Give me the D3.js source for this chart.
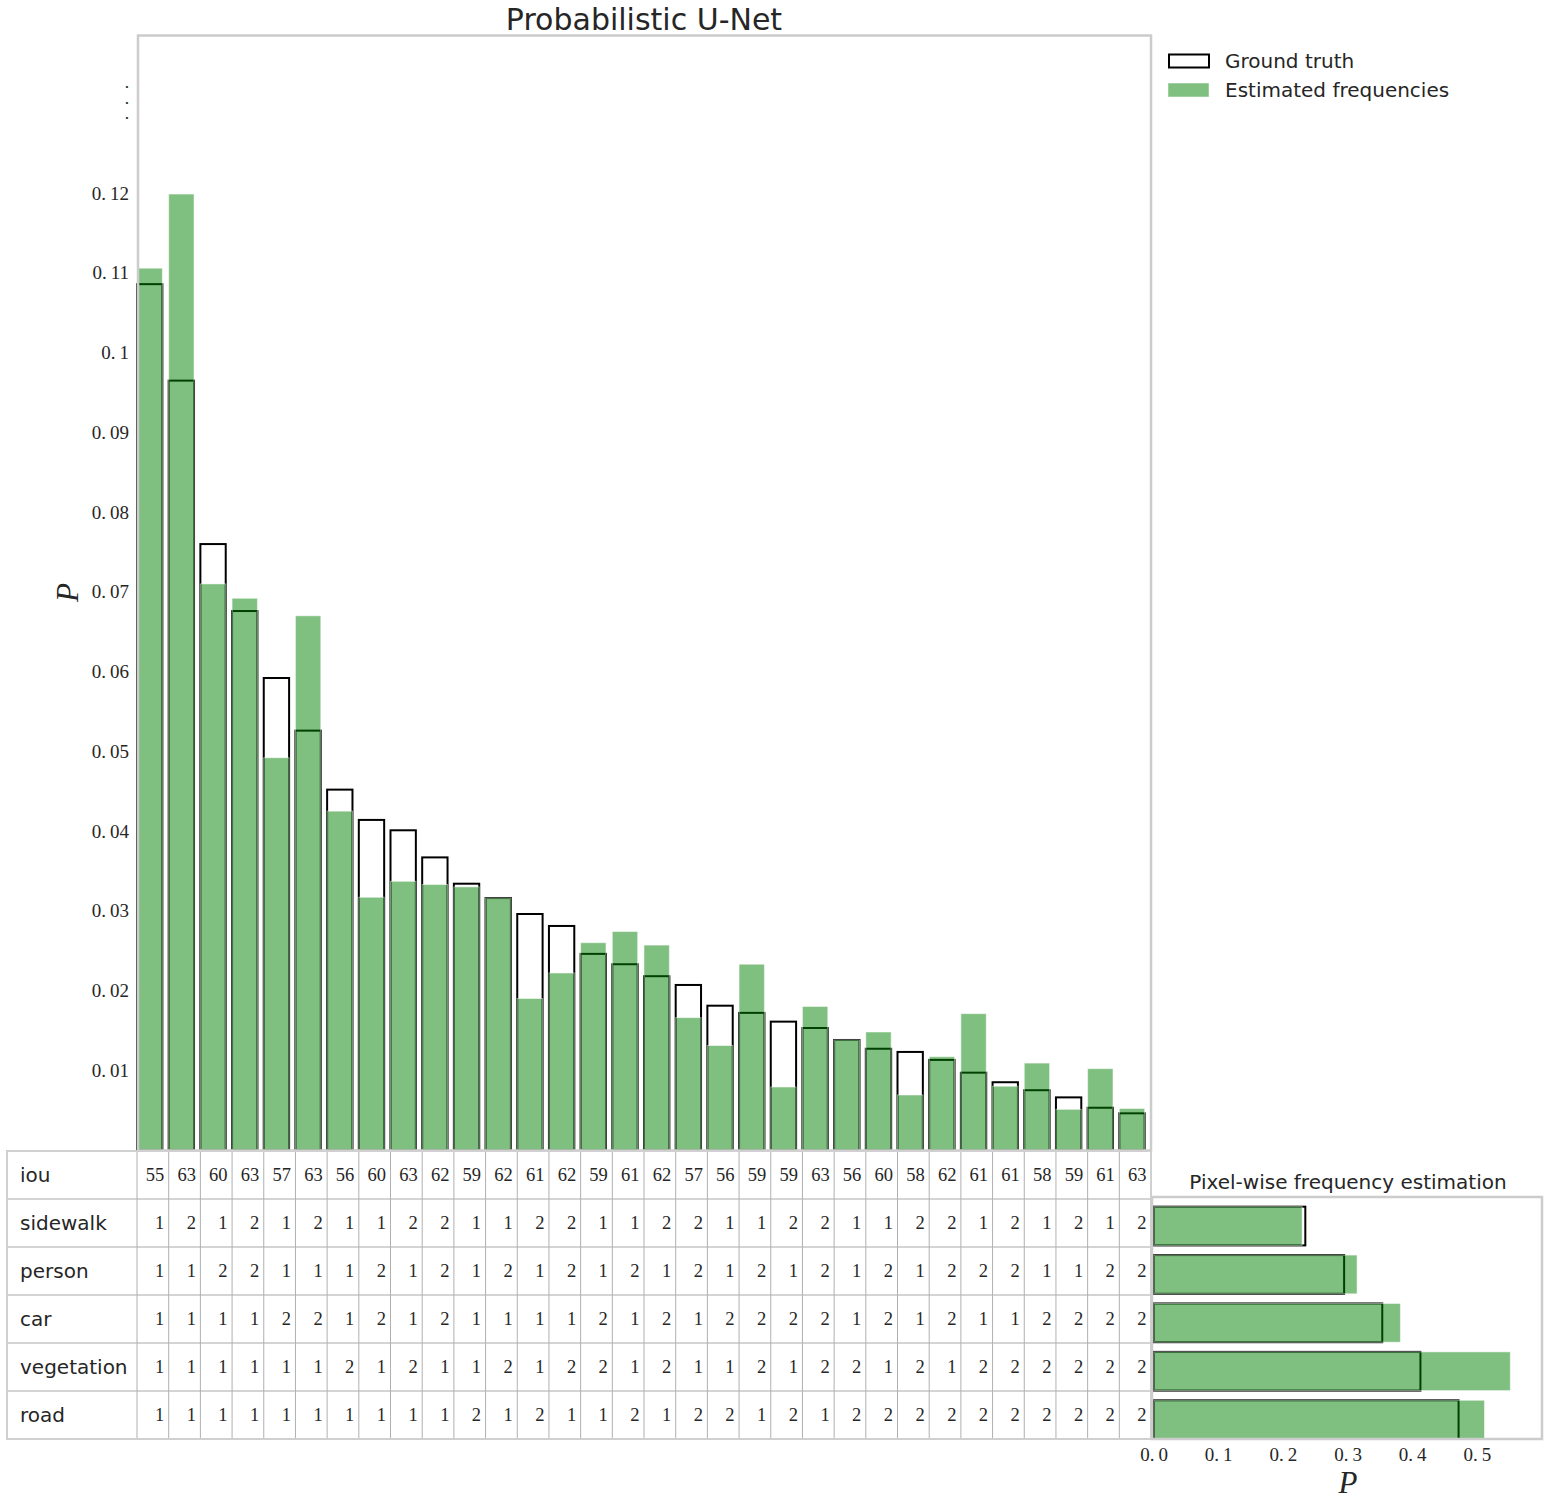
<!DOCTYPE html>
<html>
<head>
<meta charset="utf-8">
<script src="https://cdn.jsdelivr.net/npm/d3@7"></script>
<style>
  body { margin: 0; background: #fff; }
  text { fill: #262626; }
</style>
</head>
<body>
<div id="chart"></div>
<script>
// data
const iou        = [55,63,60,63,57,63,56,60,63,62,59,62,61,62,59,61,62,57,56,59,59,63,56,60,58,62,61,61,58,59,61,63];
const sidewalk   = [1,2,1,2,1,2,1,1,2,2,1,1,2,2,1,1,2,2,1,1,2,2,1,1,2,2,1,2,1,2,1,2];
const person     = [1,1,2,2,1,1,1,2,1,2,1,2,1,2,1,2,1,2,1,2,1,2,1,2,1,2,2,2,1,1,2,2];
const car        = [1,1,1,1,2,2,1,2,1,2,1,1,1,1,2,1,2,1,2,2,2,2,1,2,1,2,1,1,2,2,2,2];
const vegetation = [1,1,1,1,1,1,2,1,2,1,1,2,1,2,2,1,2,1,1,2,1,2,2,1,2,1,2,2,2,2,2,2];
const road       = [1,1,1,1,1,1,1,1,1,1,2,1,2,1,1,2,1,2,2,1,2,1,2,2,2,2,2,2,2,2,2,2];

const groundTruth = [0.1086,0.0965,0.0760,0.0676,0.0592,0.0526,0.0452,0.0414,0.0401,0.0367,0.0334,0.0316,
                     0.0296,0.0281,0.0246,0.0233,0.0218,0.0207,0.0181,0.0172,0.0161,0.0153,0.0138,0.0127,
                     0.0123,0.0113,0.0097,0.0085,0.0075,0.0066,0.0053,0.0046];
const estimated   = [0.1106,0.1199,0.0710,0.0692,0.0492,0.0670,0.0425,0.0317,0.0337,0.0333,0.0330,0.0316,
                     0.0190,0.0222,0.0260,0.0274,0.0257,0.0166,0.0131,0.0233,0.0079,0.0180,0.0138,0.0148,
                     0.0069,0.0117,0.0171,0.0080,0.0109,0.0051,0.0102,0.0052];

const classNames = ["sidewalk","person","car","vegetation","road"];
const rowNames   = ["iou"].concat(classNames);
const pixelGT    = [0.234,0.294,0.353,0.412,0.471];
const pixelEst   = [0.229,0.314,0.381,0.551,0.511];

const yTicks  = [0.01,0.02,0.03,0.04,0.05,0.06,0.07,0.08,0.09,0.1,0.11,0.12];
const yLabels = ["0.01","0.02","0.03","0.04","0.05","0.06","0.07","0.08","0.09","0.1","0.11","0.12"];
const pTicks  = [0,0.1,0.2,0.3,0.4,0.5];
const pLabels = ["0.0","0.1","0.2","0.3","0.4","0.5"];

const tableRows = { iou, sidewalk, person, car, vegetation, road };

let width = 1549, height = 1506;
let plot = ({left: 137, right: 1151, top: 35, bottom: 1150});
const svg = d3.select("#chart").append("svg")
              .attr("width", width)
              .attr("height", height);

const sans = "DejaVu Sans, sans-serif";
const serif = "Liberation Serif, DejaVu Serif, serif";
const green = "green";

let x = d3.scaleLinear().domain([0, iou.length]).range([plot.left, plot.right]);
let y = d3.scaleLinear().domain([0, 0.14]).range([plot.bottom, 33.8]);
let barW = x(0.8) - x(0);

// label like mathtext "0. 12"
function mathNum(sel) {
    sel.each(function(d) {
        const t = d3.select(this);
        const parts = d.split(".");
        t.append("tspan").text(parts[0] + ".");
        if (parts.length > 1) t.append("tspan").attr("dx", 4).text(parts[1]);
    });
}

// title
svg.append("text")
   .attr("x", (plot.left + plot.right) / 2).attr("y", 30)
   .attr("text-anchor", "middle")
   .style("font-family", sans).style("font-size", "30px")
   .text("Probabilistic U-Net");

// ground truth outlines first, estimated on top
svg.append("g").selectAll("rect")
   .data(groundTruth)
   .join("rect")
   .attr("x", (d, i) => x(i))
   .attr("y", d => y(d))
   .attr("width", barW)
   .attr("height", d => y(0) - y(d))
   .attr("fill", "none")
   .attr("stroke", "black")
   .attr("stroke-width", 2);

svg.append("g").selectAll("rect")
   .data(estimated)
   .join("rect")
   .attr("x", (d, i) => x(i))
   .attr("y", d => y(d))
   .attr("width", barW)
   .attr("height", d => y(0) - y(d))
   .attr("fill", green).attr("fill-opacity", 0.5)
   .attr("stroke", "white").attr("stroke-opacity", 0.5).attr("stroke-width", 1);

// frame
svg.append("rect")
   .attr("x", plot.left + 1).attr("y", plot.top + 0.5)
   .attr("width", plot.right - plot.left - 1).attr("height", plot.bottom - plot.top)
   .attr("fill", "none").attr("stroke", "#cccccc").attr("stroke-width", 2.5);

// y tick labels
svg.append("g").selectAll("text")
   .data(yLabels)
   .join("text")
   .attr("x", 129)
   .attr("y", (d, i) => y(yTicks[i]) + 6.5)
   .attr("text-anchor", "end")
   .style("font-family", serif).style("font-size", "19px")
   .call(mathNum);

// vertical ellipsis above the ticks (three stacked dots, small font so boxes don't touch)
let vd = svg.append("text")
   .attr("text-anchor", "middle")
   .style("font-family", serif).style("font-size", "13.5px").style("font-weight", "bold");
[0, 1, 2].forEach(k => {
    vd.append("tspan").attr("x", 127).attr("y", 88 + k * 15.5).text(".");
});

svg.append("text")
   .attr("transform", `translate(78,${(plot.top + plot.bottom) / 2}) rotate(-90)`)
   .attr("text-anchor", "middle")
   .style("font-family", serif).style("font-style", "italic").style("font-size", "31px")
   .text("P");

// legend
let lg = svg.append("g");
lg.append("rect").attr("x", 1169).attr("y", 54.5).attr("width", 40).attr("height", 13)
  .attr("fill", "white").attr("stroke", "black").attr("stroke-width", 2);
lg.append("rect").attr("x", 1168).attr("y", 83).attr("width", 41).attr("height", 14)
  .attr("fill", green).attr("fill-opacity", 0.5)
  .attr("stroke", "white").attr("stroke-opacity", 0.5);
lg.selectAll("text")
  .data(["Ground truth", "Estimated frequencies"])
  .join("text")
  .attr("x", 1225).attr("y", (d, i) => 68 + i * 29)
  .style("font-family", sans).style("font-size", "20px")
  .text(d => d);

// table
let rowY = d3.scaleBand().domain(rowNames).range([1151, 1439]);
let table = svg.append("g");
let tableLeft = 7;

table.selectAll("text.rowlabel")
   .data(rowNames)
   .join("text")
   .attr("class", "rowlabel")
   .attr("x", 20)
   .attr("y", d => rowY(d) + rowY.bandwidth() / 2 + 7)
   .style("font-family", sans).style("font-size", "20px")
   .text(d => d);

// inner grid lines
table.selectAll("line.h")
   .data(rowNames.slice(1))
   .join("line")
   .attr("class", "h")
   .attr("x1", tableLeft).attr("x2", plot.right)
   .attr("y1", d => rowY(d)).attr("y2", d => rowY(d))
   .attr("stroke", "#a8a8a8").attr("stroke-width", 1);

table.selectAll("line.v")
   .data(d3.range(iou.length))
   .join("line")
   .attr("class", "v")
   .attr("x1", i => x(i)).attr("x2", i => x(i))
   .attr("y1", rowY.range()[0]).attr("y2", rowY.range()[1])
   .attr("stroke", "#b0b0b0").attr("stroke-width", 1);

table.append("rect")
   .attr("x", tableLeft).attr("y", 1151)
   .attr("width", plot.right - tableLeft).attr("height", 1439 - 1151)
   .attr("fill", "none").attr("stroke", "#d0d0d0").attr("stroke-width", 2);

rowNames.forEach(name => {
    table.append("g").selectAll("text")
       .data(tableRows[name])
       .join("text")
       .attr("x", (d, i) => x(i + 1) - 4.5)
       .attr("y", rowY(name) + rowY.bandwidth() / 2 + 6)
       .attr("text-anchor", "end")
       .style("font-family", serif).style("font-size", "18.5px")
       .text(d => d);
});

// pixel-wise frequency estimation
let small = ({left: 1152, right: 1542, top: 1197, bottom: 1439});
let xs = d3.scaleLinear().domain([0, 0.6]).range([1154, 1542]);
let ys = d3.scaleLinear().domain([-0.6, 4.4]).range([small.top, small.bottom]);

svg.append("text")
   .attr("x", 1348).attr("y", 1189)
   .attr("text-anchor", "middle")
   .style("font-family", sans).style("font-size", "20px")
   .text("Pixel-wise frequency estimation");

svg.append("g").selectAll("rect")
   .data(pixelGT)
   .join("rect")
   .attr("x", xs(0))
   .attr("y", (d, i) => ys(i - 0.4))
   .attr("width", d => xs(d) - xs(0))
   .attr("height", ys(0.4) - ys(-0.4))
   .attr("fill", "none").attr("stroke", "black").attr("stroke-width", 2);

svg.append("g").selectAll("rect")
   .data(pixelEst)
   .join("rect")
   .attr("x", xs(0))
   .attr("y", (d, i) => ys(i - 0.4))
   .attr("width", d => xs(d) - xs(0))
   .attr("height", ys(0.4) - ys(-0.4))
   .attr("fill", green).attr("fill-opacity", 0.5)
   .attr("stroke", "white").attr("stroke-opacity", 0.5).attr("stroke-width", 1);

svg.append("rect")
   .attr("x", small.left).attr("y", small.top)
   .attr("width", small.right - small.left).attr("height", small.bottom - small.top)
   .attr("fill", "none").attr("stroke", "#cccccc").attr("stroke-width", 2.5);

svg.append("g").selectAll("text")
   .data(pLabels)
   .join("text")
   .attr("x", (d, i) => xs(pTicks[i]))
   .attr("y", 1461)
   .attr("text-anchor", "middle")
   .style("font-family", serif).style("font-size", "19px")
   .call(mathNum);

svg.append("text")
   .attr("x", 1348).attr("y", 1493)
   .attr("text-anchor", "middle")
   .style("font-family", serif).style("font-style", "italic").style("font-size", "31px")
   .text("P");
</script>
</body>
</html>
